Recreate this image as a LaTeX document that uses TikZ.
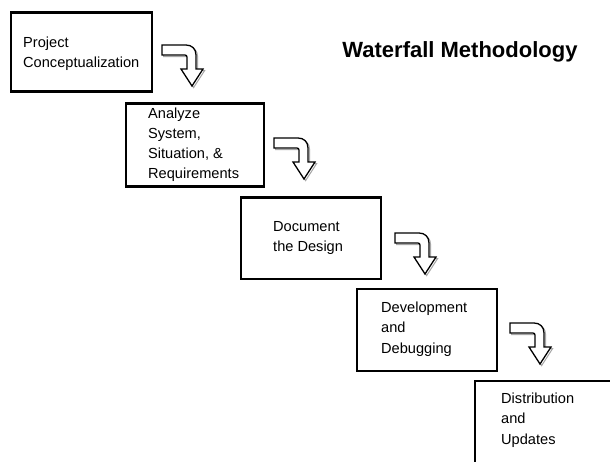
\documentclass[tikz,border=0pt]{standalone}
\usepackage{fontspec}
\setmainfont{Liberation Sans}
\begin{document}
\begin{tikzpicture}[x=1pt,y=-1pt,
  stagebox/.style={draw=black,line width=2.8pt,fill=white,inner sep=0pt,anchor=north west},
  % multi-line labels are placed by the baseline of their last line
  stagetext/.style={inner sep=0pt,anchor=base west,align=left,
    font=\fontsize{14.6}{20.2}\selectfont},
  titletext/.style={inner sep=0pt,anchor=base,font=\fontsize{22}{26}\selectfont\bfseries},
  bentarrow/.pic={
    % offset outline gives the raised look on the lower right
    \draw[gray!70,line width=1pt,shift={(1.6,1.6)}]
      (0,0) -- (24,0) .. controls (30,0) and (34,4) .. (34,10) -- (34,24)
      -- (41,24) -- (30,41) -- (19,24) -- (25,24) -- (25,12)
      .. controls (25,11) and (24,10) .. (23,10) -- (0,10) -- cycle;
    \draw[black,line width=1.3pt,fill=white,line join=miter]
      (0,0) -- (24,0) .. controls (30,0) and (34,4) .. (34,10) -- (34,24)
      -- (41,24) -- (30,41) -- (19,24) -- (25,24) -- (25,12)
      .. controls (25,11) and (24,10) .. (23,10) -- (0,10) -- cycle;
  }]
\clip (0,0) rectangle (610,462);
\fill[white] (0,0) rectangle (610,462);

% stage boxes
\node[stagebox,minimum width=141pt,minimum height=79pt] (s1) at (9.5,11.5) {};
\node[stagebox,minimum width=138pt,minimum height=83pt] (s2) at (124.5,102.5) {};
\node[stagebox,minimum width=140pt,minimum height=81pt] (s3) at (239.5,196.5) {};
\node[stagebox,minimum width=140pt,minimum height=82pt] (s4) at (355.5,287.5) {};
\node[stagebox,minimum width=170pt,minimum height=100pt] (s5) at (473.5,379.5) {};

% stage labels
\node[stagetext] (t1) at (23,68) {Project\\Conceptualization};
\node[stagetext] (t2) at (148,179) {Analyze\\System,\\Situation, \&\\Requirements};
\node[stagetext] (t3) at (273,252) {Document\\the Design};
\node[stagetext] (t4) at (381,353) {Development\\and\\Debugging};
\node[stagetext] (t5) at (501,444) {Distribution\\and\\Updates};

% transition arrows
\pic at (162,45) {bentarrow};
\pic at (274,138) {bentarrow};
\pic at (395,233) {bentarrow};
\pic at (510,323) {bentarrow};

% heading
\node[titletext] (title) at (460,58) {Waterfall Methodology};
\end{tikzpicture}
\end{document}
